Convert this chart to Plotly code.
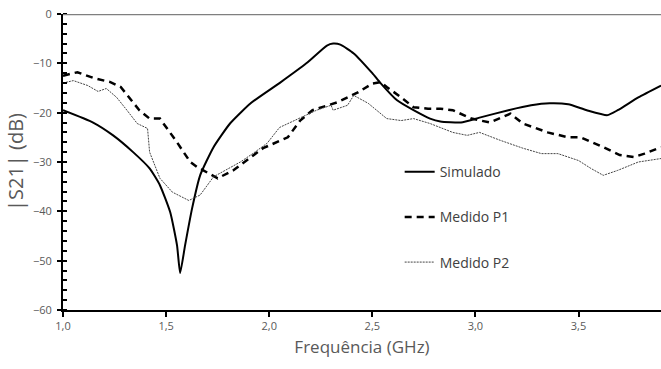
import plotly.graph_objects as go

# Simulado
sim_x = [1.00, 1.146, 1.243, 1.34, 1.42, 1.47, 1.52, 1.553, 1.568, 1.592, 1.626, 1.665, 1.73, 1.81, 1.91, 2.05, 2.18, 2.28, 2.31, 2.345, 2.41, 2.50, 2.54, 2.62, 2.70, 2.78, 2.83, 2.93, 3.02, 3.16, 3.27, 3.36, 3.45, 3.54, 3.64, 3.69, 3.79, 3.90]
sim_y = [-19.5, -22.0, -24.6, -28.0, -31.3, -34.7, -40.2, -46.9, -52.5, -46.9, -39.4, -32.7, -27.0, -22.2, -18.1, -14.0, -10.0, -6.4, -6.0, -6.2, -8.0, -12.0, -14.0, -17.5, -19.5, -21.2, -21.8, -22.0, -21.0, -19.5, -18.5, -18.1, -18.3, -19.5, -20.5, -19.5, -16.9, -14.5]

# Medido P1
p1_x = [1.00, 1.07, 1.15, 1.23, 1.28, 1.33, 1.37, 1.42, 1.47, 1.553, 1.617, 1.65, 1.75, 1.825, 1.97, 2.09, 2.15, 2.21, 2.33, 2.43, 2.50, 2.54, 2.57, 2.64, 2.70, 2.77, 2.83, 2.89, 2.98, 3.07, 3.17, 3.23, 3.35, 3.45, 3.51, 3.62, 3.70, 3.77, 3.82, 3.90]
p1_y = [-12.5, -11.8, -13.0, -13.8, -14.8, -17.5, -19.5, -21.2, -21.2, -26.0, -30.0, -31.0, -33.3, -31.7, -27.2, -25.0, -21.6, -19.5, -17.9, -15.9, -14.1, -13.8, -14.8, -16.9, -18.9, -19.2, -19.2, -19.5, -21.2, -22.0, -20.2, -22.2, -24.0, -25.0, -25.0, -27.0, -28.6, -29.0, -28.3, -27.0]

# Medido P2
p2_x = [1.00, 1.05, 1.12, 1.17, 1.21, 1.26, 1.31, 1.36, 1.41, 1.42, 1.47, 1.53, 1.61, 1.665, 1.73, 1.86, 1.92, 1.99, 2.05, 2.15, 2.23, 2.30, 2.31, 2.38, 2.41, 2.48, 2.57, 2.64, 2.70, 2.78, 2.83, 2.89, 2.96, 3.02, 3.12, 3.23, 3.32, 3.40, 3.50, 3.56, 3.62, 3.69, 3.79, 3.90]
p2_y = [-14.0, -13.5, -14.5, -15.7, -15.1, -16.9, -19.5, -22.2, -23.2, -28.0, -33.3, -36.1, -37.8, -36.7, -33.0, -30.0, -28.3, -26.2, -23.0, -21.0, -19.5, -18.5, -19.5, -18.5, -16.5, -18.1, -21.2, -21.6, -21.2, -22.2, -23.0, -24.0, -24.6, -24.0, -25.6, -27.2, -28.3, -28.3, -29.7, -31.3, -32.7, -31.7, -30.0, -29.3]

x_ticks = [1.0, 1.5, 2.0, 2.5, 3.0, 3.5]
y_ticks = [0, -10, -20, -30, -40, -50, -60]

fig = go.Figure()
fig.add_trace(go.Scatter(x=sim_x, y=sim_y, mode="lines", name="Simulado",
                         line=dict(color="black", width=2, dash="solid", shape="spline", smoothing=0.5),
                         legendgroup="a"))
fig.add_trace(go.Scatter(x=p1_x, y=p1_y, mode="lines", name="Medido P1",
                         line=dict(color="black", width=2.5, dash="7px,5px"), legendgroup="b"))
fig.add_trace(go.Scatter(x=p2_x, y=p2_y, mode="lines", name="Medido P2",
                         line=dict(color="#444444", width=1, dash="2px,1px"), legendgroup="c"))

fig.add_shape(type="line", xref="paper", yref="y", x0=0, x1=1, y0=0, y1=0,
              line=dict(color="#7f7f7f", width=2.5))

fig.update_layout(
    width=661, height=369,
    margin=dict(l=63, r=0, t=14, b=59),
    paper_bgcolor="white", plot_bgcolor="white",
    separators=",.",
    font=dict(family="Open Sans", color="#595959"),
    showlegend=True,
    legend=dict(x=0.563, y=0.52, xanchor="left", yanchor="top",
                font=dict(size=14, color="#404040"), tracegroupgap=24,
                bgcolor="rgba(0,0,0,0)", itemwidth=30),
    hovermode=False,
)
fig.update_xaxes(range=[1.0, 3.9], tickvals=x_ticks, tickformat=".1f",
                 showgrid=False, zeroline=False, showline=True, linecolor="black", linewidth=2,
                 ticks="outside", ticklen=5, tickwidth=2, tickcolor="black",
                 tickfont=dict(size=11, color="#595959"),
                 title=dict(text="Frequência (GHz)", font=dict(size=17, color="#595959"), standoff=9))
fig.update_yaxes(range=[-60, 0], tickvals=y_ticks,
                 showgrid=False, zeroline=False, showline=True, linecolor="black", linewidth=2,
                 ticks="outside", ticklen=4, tickwidth=2, tickcolor="black", ticklabelstandoff=3,
                 minor=dict(dtick=2, tick0=0, ticks="inside", ticklen=4, tickwidth=2, tickcolor="black"),
                 tickfont=dict(size=11, color="#595959"),
                 title=dict(text="|S21| (dB)", font=dict(size=20, color="#595959"), standoff=4))

fig.write_html("out.html")
